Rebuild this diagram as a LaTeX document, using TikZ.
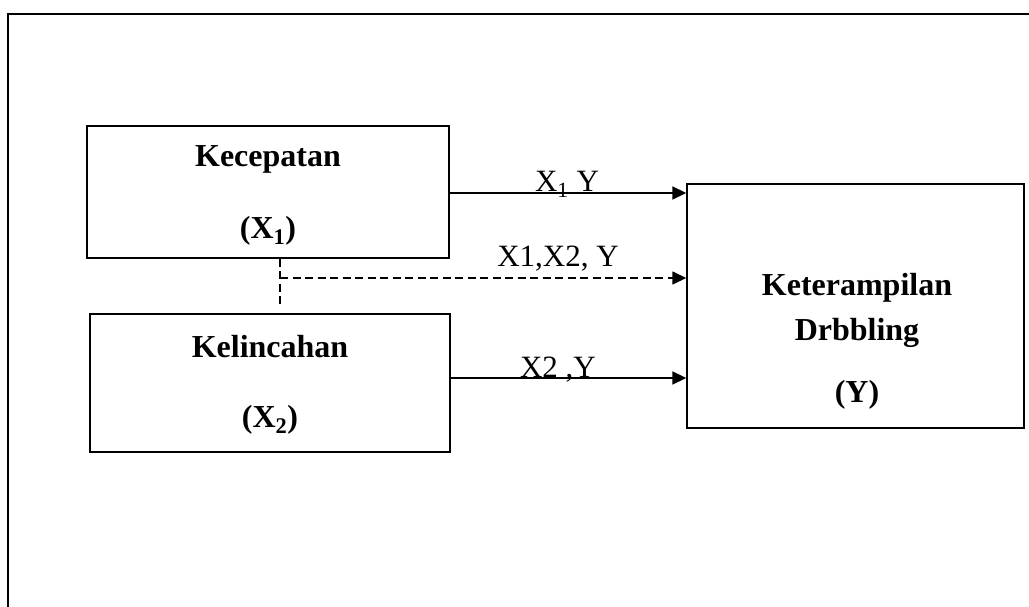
\documentclass[tikz,border=0pt]{standalone}
\usepackage{fontspec}
\setmainfont{Liberation Serif}
\usetikzlibrary{arrows.meta}
\begin{document}
\begin{tikzpicture}[x=1pt,y=-1pt,
  varbox/.style={draw,line width=1.4pt,inner sep=0pt},
  boxtext/.style={font=\fontsize{32}{38}\selectfont\bfseries,anchor=base,inner sep=0pt},
  lbl/.style={font=\fontsize{31}{36}\selectfont,anchor=base,inner sep=0pt},
  arr/.style={line width=1.8pt,-{Triangle[length=14pt,width=13pt]}},
  dsh/.style={line width=1.5pt,dash pattern=on 8pt off 4.5pt}]
\useasboundingbox (0,0) rectangle (1029,607);
% outer frame (cut off at right and bottom)
\draw[line width=2pt] (8,607) -- (8,14) -- (1029,14);
% boxes
\node[varbox,minimum width=362pt,minimum height=132pt] (k1) at (268,192) {};
\node[varbox,minimum width=360pt,minimum height=138pt] (k2) at (270,383) {};
\node[varbox,minimum width=337pt,minimum height=244pt] (ky) at (855.5,306) {};
% box texts
\node[boxtext] (t1a) at (268,167) {Kecepatan};
\node[boxtext] (t1b) at (268,238) {(X\textsubscript{1})};
\node[boxtext] (t2a) at (270,357) {Kelincahan};
\node[boxtext] (t2b) at (270,427) {(X\textsubscript{2})};
\node[boxtext] (tya) at (857,295) {Keterampilan};
\node[boxtext] (tyb) at (857,340) {Drbbling};
\node[boxtext] (tyc) at (857,402) {(Y)};
% connectors
\coordinate (s1) at (449,193);
\coordinate (s3) at (450,378);
\coordinate (d) at (280,278);
\coordinate (dbot) at (280,307);
\draw[arr] (s1) -- (s1 -| ky.west);
\draw[arr] (s3) -- (s3 -| ky.west);
\draw[dsh] (d |- k1.south) -- (dbot);
\draw[dsh,-{Triangle[length=14pt,width=13pt]}] (d) -- (d -| ky.west);
% labels
\node[lbl] (l1) at (567,192) {X\textsubscript{1} Y};
\node[lbl] (l2) at (558,266) {X1,X2, Y};
\node[lbl] (l3) at (558,377) {X2 ,Y};
\end{tikzpicture}
\end{document}
